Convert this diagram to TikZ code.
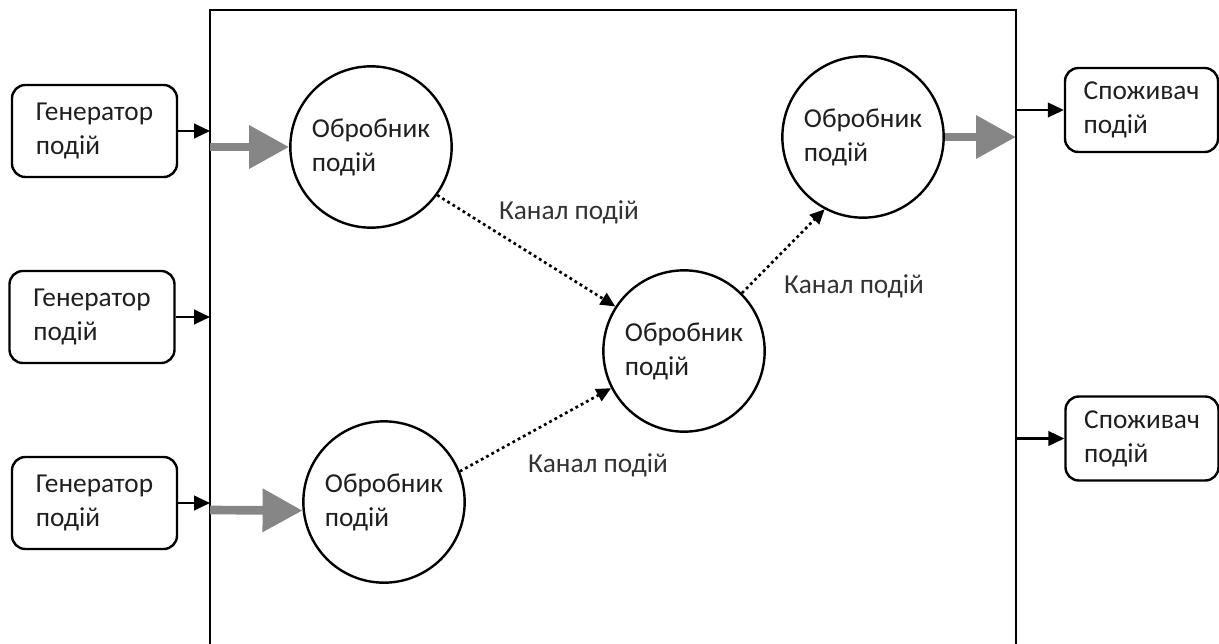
\documentclass[tikz,border=0pt]{standalone}
\usepackage{fontspec}
\setmainfont{Carlito}
\usetikzlibrary{arrows.meta}
\begin{document}
\begin{tikzpicture}[x=0.75pt,y=-0.75pt,
  txt/.style={font=\fontsize{20.5}{25.5}\selectfont, align=left, text=black!88},
  genbox/.style={txt, draw, line width=1.8pt, rounded corners=10pt, minimum width=123.75pt, minimum height=69pt, inner sep=0pt},
  consbox/.style={txt, draw, line width=1.8pt, rounded corners=10pt, minimum width=114.75pt, minimum height=63pt, inner sep=0pt},
  proc/.style={txt, draw, circle, line width=1.8pt, minimum size=121pt, inner sep=0pt},
  lbl/.style={font=\fontsize{20.5}{25.5}\selectfont, text=black!80},
  smallarrow/.style={line width=1.6pt, -{Triangle[length=12pt,width=11pt]}},
  bigarrow/.style={draw=gray!95, line width=6.5pt, -{Triangle[length=30pt,width=31pt]}},
  chan/.style={line width=2pt, dash pattern=on 2.1pt off 2.4pt, -{Triangle[length=11pt,width=10pt]}},
  wall/.style={line width=0.9pt}
]
\useasboundingbox (0,0) rectangle (1219,643);

% main system rectangle
\coordinate (wbl) at (210,650);
\coordinate (wtl) at (210,10);
\coordinate (wtr) at (1016,10);
\coordinate (wbr) at (1016,650);
\draw[wall] (wbl) -- (wtl) -- (wtr) -- (wbr);

% generators
\node[genbox] (g1) at (94.5,131) {Генератор\\подій};
\node[genbox] (g2) at (92,317) {Генератор\\подій};
\node[genbox] (g3) at (94.5,503) {Генератор\\подій};

% consumers
\node[consbox] (s1) at (1141.5,110) {Споживач\\подій};
\node[consbox] (s2) at (1142,438.5) {Споживач\\подій};

% processors
\node[proc] (c1) at (371,147) {Обробник\\подій};
\node[proc] (c2) at (384,502) {Обробник\\подій};
\node[proc] (c3) at (684,351) {Обробник\\подій};
\node[proc] (c4) at (863,137) {Обробник\\подій};

% wall coordinates
\coordinate (w1) at (210,131);
\coordinate (w2) at (210,317);
\coordinate (w3) at (210,503);
\coordinate (e1) at (1016,110);
\coordinate (e2) at (1016,438.5);
\coordinate (in1) at (210,147);
\coordinate (in2) at (210,510);
\coordinate (out1) at (1016,137);

% generator -> wall
\draw[smallarrow] (g1.east) -- (w1);
\draw[smallarrow] (g2.east) -- (w2);
\draw[smallarrow] (g3.east) -- (w3);

% wall -> consumer
\draw[smallarrow] (e1) -- (s1.west);
\draw[smallarrow] (e2) -- (s2.west);

% thick gray arrows
\draw[bigarrow] (in1) -- (c1.west);
\draw[bigarrow] (in2) -- (c2.186);
\draw[bigarrow] (c4.east) -- (out1);

% event channels
\draw[chan] (c1.-36) -- (c3.147);
\draw[chan] (c2.22) -- (c3.207);
\draw[chan] (c3.45) -- (c4.242);

% channel labels
\node[lbl] (l1) at (569,212) {Канал подій};
\node[lbl] (l2) at (854,286) {Канал подій};
\node[lbl] (l3) at (598,465) {Канал подій};
\end{tikzpicture}
\end{document}
